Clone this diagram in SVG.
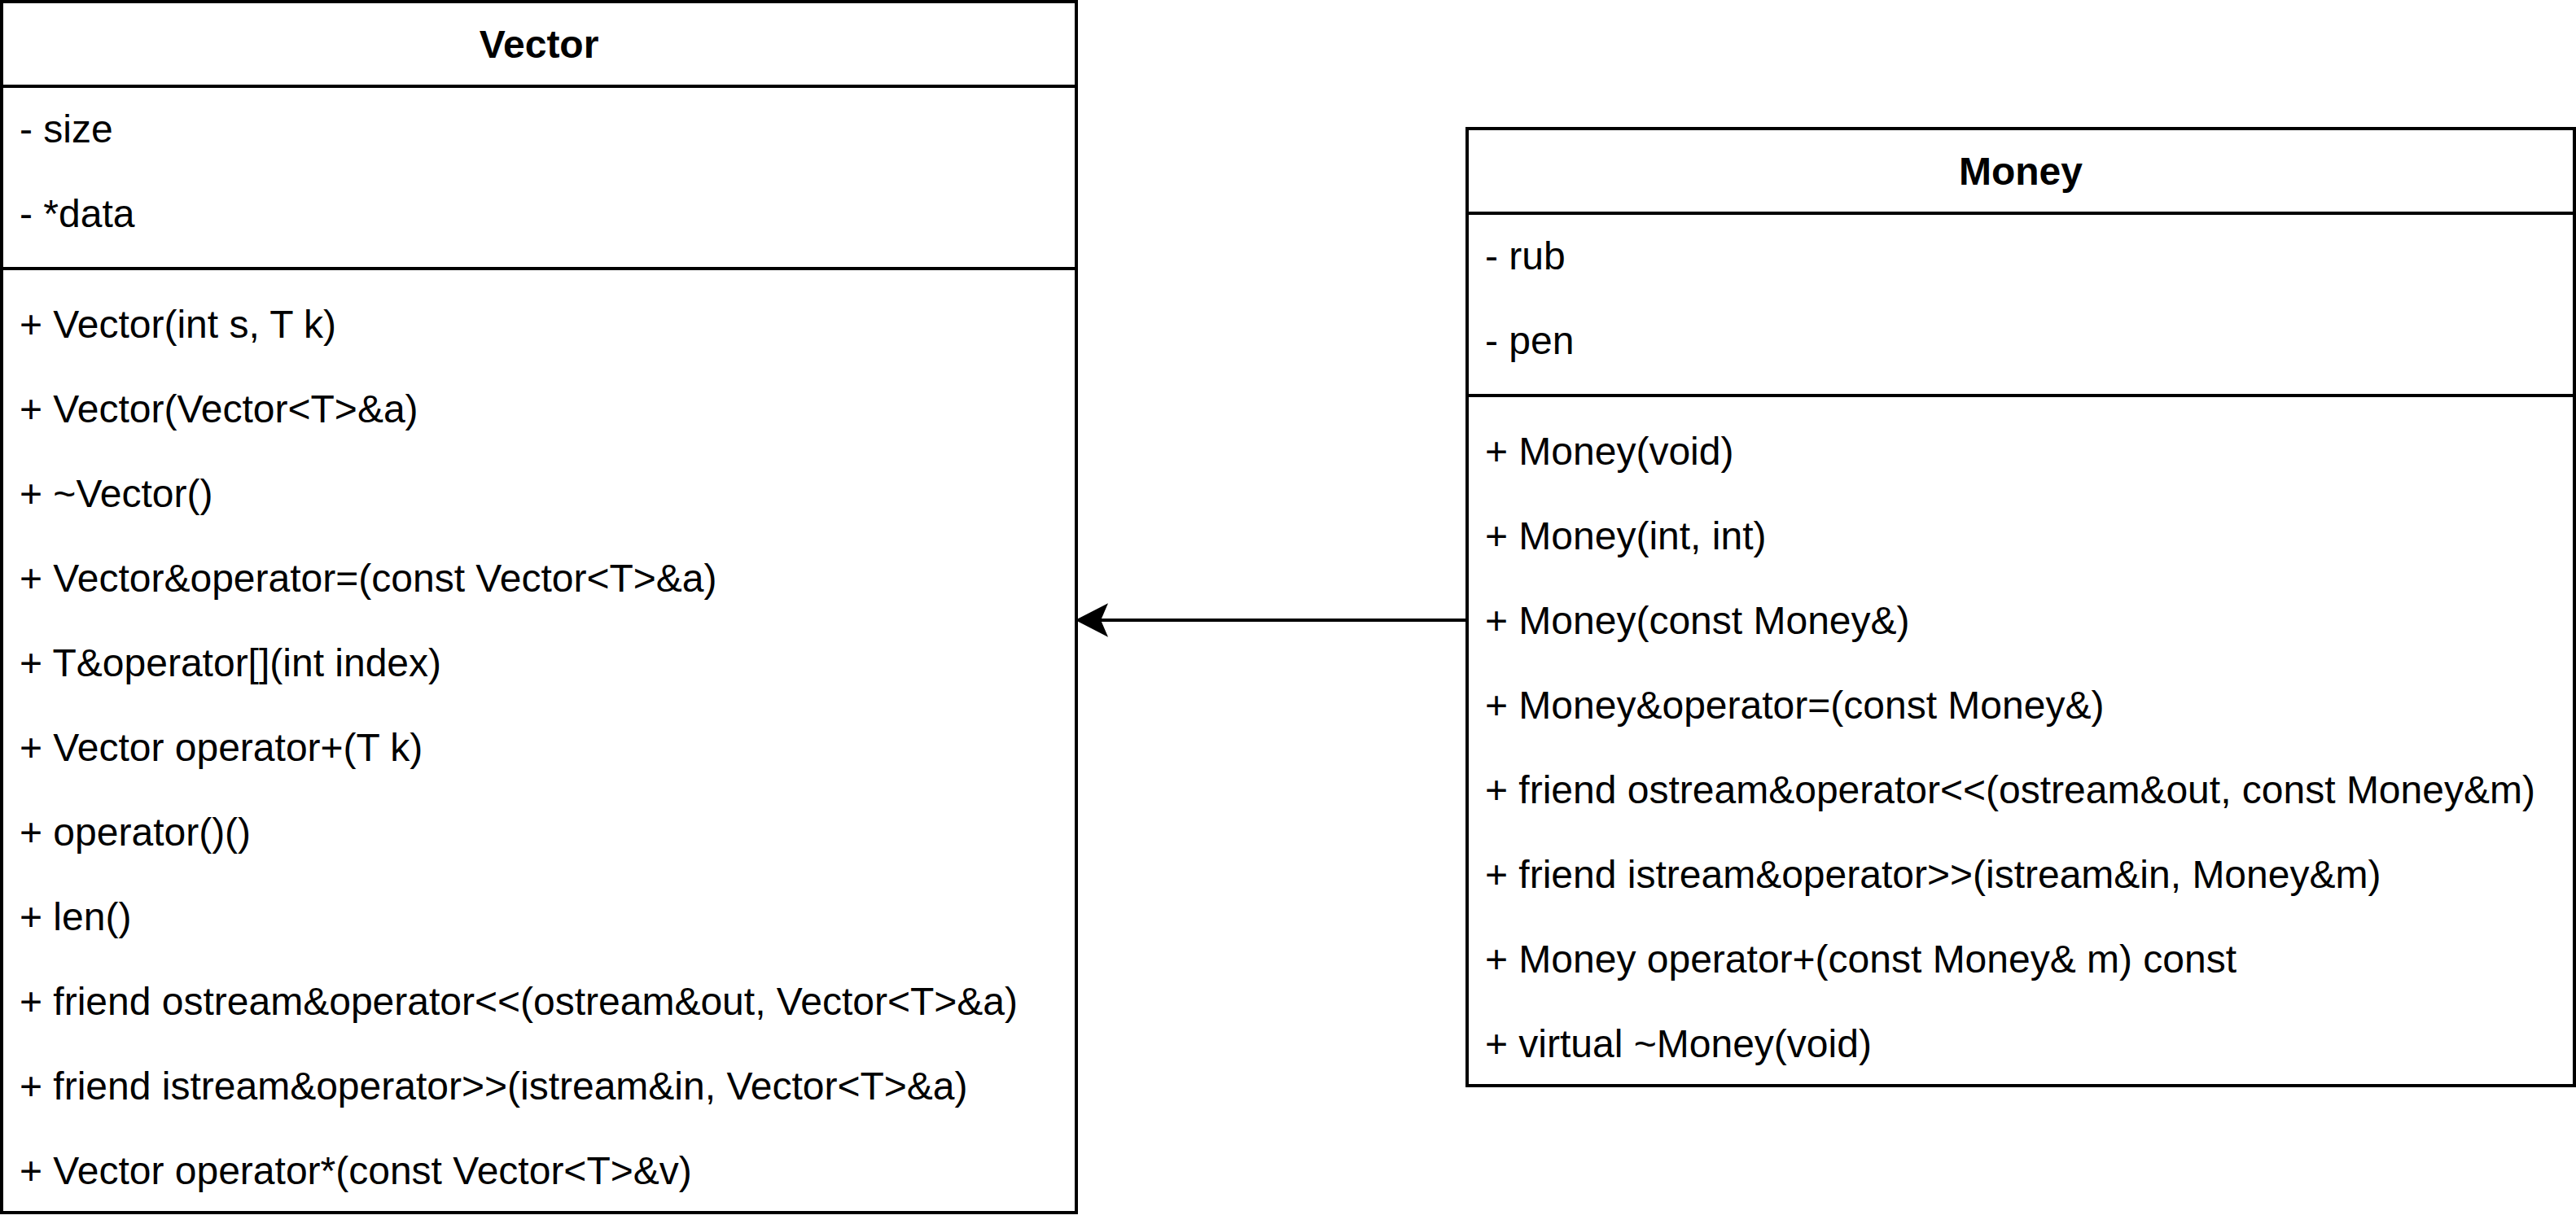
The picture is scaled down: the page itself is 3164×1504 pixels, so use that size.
<svg xmlns="http://www.w3.org/2000/svg" width="3164" height="1504" viewBox="0 0 3164 1504">
<style>
.box{fill:#ffffff;stroke:#000000;stroke-width:4}
.ln{stroke:#000000;stroke-width:4;fill:none}
.t{font-family:"Liberation Sans",Arial,Helvetica,sans-serif;font-size:48px;fill:#000000}
.h{font-family:"Liberation Sans",Arial,Helvetica,sans-serif;font-size:48px;font-weight:bold;fill:#000000;text-anchor:middle}
</style>
<rect x="0" y="0" width="3164" height="1504" fill="#ffffff"/>
<g id="connectors">
<line class="ln" x1="1802" y1="762" x2="1350" y2="762"/>
<path d="M1323,762 L1359,743.5 L1351,762 L1359,780.5 Z" fill="#000000" stroke="#000000" stroke-width="2"/>
</g>
<g id="vector">
<rect class="box" x="2" y="2" width="1320" height="1488"/>
<line class="ln" x1="2" y1="106" x2="1322" y2="106"/>
<line class="ln" x1="2" y1="330" x2="1322" y2="330"/>
<text class="h" x="662" y="71">Vector</text>
<text class="t" x="24" y="175">- size</text>
<text class="t" x="24" y="279">- *data</text>
<text class="t" x="24" y="415">+ Vector(int s, T k)</text>
<text class="t" x="24" y="519">+ Vector(Vector&lt;T&gt;&amp;a)</text>
<text class="t" x="24" y="623">+ ~Vector()</text>
<text class="t" x="24" y="727">+ Vector&amp;operator=(const Vector&lt;T&gt;&amp;a)</text>
<text class="t" x="24" y="831">+ T&amp;operator[](int index)</text>
<text class="t" x="24" y="935">+ Vector operator+(T k)</text>
<text class="t" x="24" y="1039">+ operator()()</text>
<text class="t" x="24" y="1143">+ len()</text>
<text class="t" x="24" y="1247">+ friend ostream&amp;operator&lt;&lt;(ostream&amp;out, Vector&lt;T&gt;&amp;a)</text>
<text class="t" x="24" y="1351">+ friend istream&amp;operator&gt;&gt;(istream&amp;in, Vector&lt;T&gt;&amp;a)</text>
<text class="t" x="24" y="1455">+ Vector operator*(const Vector&lt;T&gt;&amp;v)</text>
</g>
<g id="money">
<rect class="box" x="1802" y="158" width="1360" height="1176"/>
<line class="ln" x1="1802" y1="262" x2="3162" y2="262"/>
<line class="ln" x1="1802" y1="486" x2="3162" y2="486"/>
<text class="h" x="2482" y="227">Money</text>
<text class="t" x="1824" y="331">- rub</text>
<text class="t" x="1824" y="435">- pen</text>
<text class="t" x="1824" y="571">+ Money(void)</text>
<text class="t" x="1824" y="675">+ Money(int, int)</text>
<text class="t" x="1824" y="779">+ Money(const Money&amp;)</text>
<text class="t" x="1824" y="883">+ Money&amp;operator=(const Money&amp;)</text>
<text class="t" x="1824" y="987">+ friend ostream&amp;operator&lt;&lt;(ostream&amp;out, const Money&amp;m)</text>
<text class="t" x="1824" y="1091">+ friend istream&amp;operator&gt;&gt;(istream&amp;in, Money&amp;m)</text>
<text class="t" x="1824" y="1195">+ Money operator+(const Money&amp; m) const</text>
<text class="t" x="1824" y="1299">+ virtual ~Money(void)</text>
</g>
</svg>
